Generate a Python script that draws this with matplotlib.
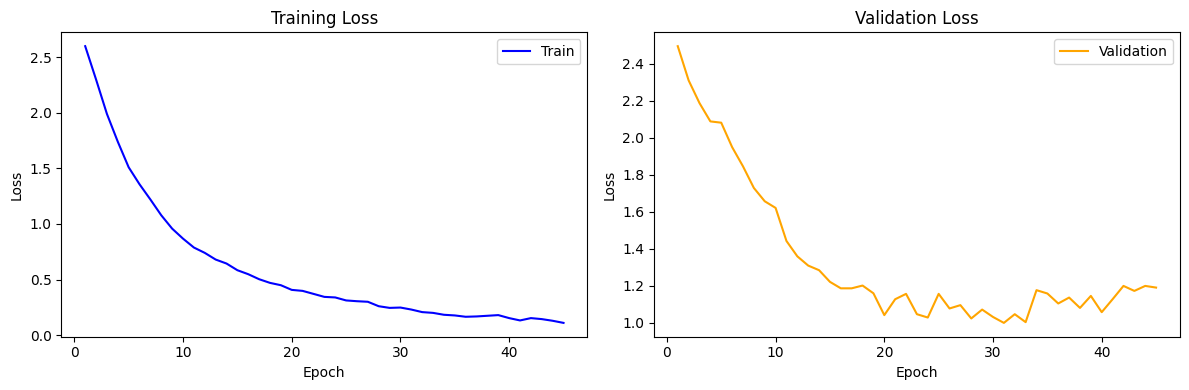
import matplotlib
matplotlib.use("Agg")
import matplotlib.pyplot as plt

epochs = list(range(1, 46))

train_loss = [
    2.60, 2.30, 1.99, 1.74, 1.51, 1.357, 1.22, 1.078, 0.958, 0.868,
    0.788, 0.74, 0.68, 0.644, 0.584, 0.548, 0.503, 0.47, 0.449, 0.407,
    0.398, 0.371, 0.344, 0.339, 0.312, 0.305, 0.30, 0.26, 0.245, 0.248,
    0.23, 0.207, 0.20, 0.183, 0.177, 0.165, 0.168, 0.174, 0.18, 0.153,
    0.132, 0.153, 0.144, 0.129, 0.11,
]

val_loss = [
    2.495, 2.31, 2.187, 2.088, 2.081, 1.949, 1.845, 1.728, 1.656, 1.62,
    1.441, 1.358, 1.308, 1.283, 1.22, 1.185, 1.185, 1.20, 1.158, 1.04,
    1.126, 1.155, 1.045, 1.027, 1.155, 1.076, 1.094, 1.022, 1.07, 1.03,
    0.998, 1.045, 1.002, 1.175, 1.157, 1.103, 1.135, 1.079, 1.144, 1.056,
    1.126, 1.198, 1.171, 1.198, 1.189,
]

fig, (ax1, ax2) = plt.subplots(1, 2, figsize=(12, 4), dpi=100)

ax1.plot(epochs, train_loss, color="blue", label="Train")
ax1.set_title("Training Loss")
ax1.set_xlabel("Epoch")
ax1.set_ylabel("Loss")
ax1.legend()

ax2.plot(epochs, val_loss, color="orange", label="Validation")
ax2.set_title("Validation Loss")
ax2.set_xlabel("Epoch")
ax2.set_ylabel("Loss")
ax2.legend()

plt.tight_layout()
plt.savefig("out.png", bbox_inches="tight")
